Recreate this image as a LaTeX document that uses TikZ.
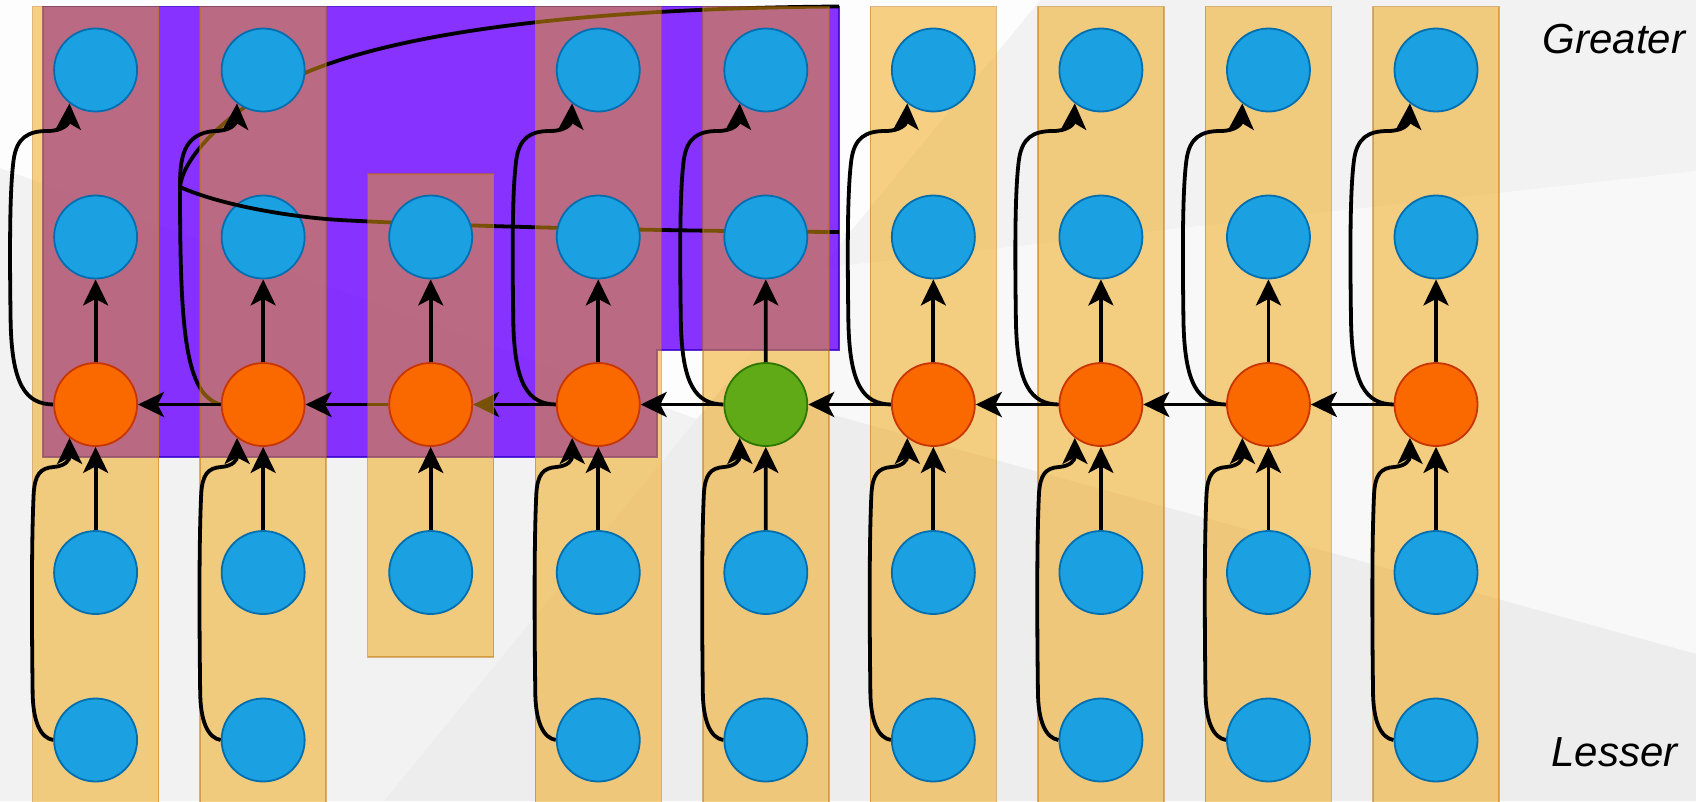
\documentclass[tikz,border=0pt]{standalone}
\usepackage{fontspec}
\setmainfont{Liberation Sans}
\usetikzlibrary{arrows.meta}
\definecolor{cblue}{HTML}{1BA1E2}
\definecolor{cbluedk}{HTML}{006EAF}
\definecolor{corange}{HTML}{FA6800}
\definecolor{corangedk}{HTML}{C73500}
\definecolor{cgreen}{HTML}{60A917}
\definecolor{cgreendk}{HTML}{2D7600}
\definecolor{cviolet}{HTML}{6A00FF}
\definecolor{cvioletdk}{HTML}{3700CC}
\definecolor{camber}{HTML}{F0A30A}
\definecolor{camberdk}{HTML}{BD7000}
\definecolor{bgbase}{HTML}{F2F2F2}
\definecolor{bgwhite}{HTML}{FDFDFD}
\definecolor{bglight}{HTML}{F8F8F8}
\definecolor{bgdark}{HTML}{EDEDED}
\pgfdeclarelayer{lbg}
\pgfdeclarelayer{lpurple}
\pgfdeclarelayer{lcurve}
\pgfdeclarelayer{lbox}
\pgfdeclarelayer{lharrow}
\pgfdeclarelayer{lboxtwo}
\pgfdeclarelayer{larrow}
\pgfdeclarelayer{ltop}
\pgfsetlayers{lbg,lpurple,lcurve,lbox,lharrow,lboxtwo,larrow,main,ltop}
\begin{document}
\begin{tikzpicture}[x=1pt,y=-1pt,
  cell/.style={circle, minimum size=83pt, inner sep=0pt, line width=1.8pt},
  bluec/.style={cell, fill=cblue, draw=cbluedk},
  orangec/.style={cell, fill=corange, draw=corangedk},
  greenc/.style={cell, fill=cgreen, draw=cgreendk},
  colbox/.style={fill=camber, draw=camberdk, opacity=0.5, line width=1.5pt},
  violetbox/.style={fill=cviolet, fill opacity=0.8, draw=cvioletdk, draw opacity=0.8, line width=1.5pt},
  link/.style={line width=3.8pt, -{Stealth[length=26pt,width=25pt,inset=6.5pt]}},
  plain/.style={line width=3.8pt},
  label/.style={anchor=base, inner sep=0pt, font=\fontsize{42}{50}\selectfont\itshape}]
\useasboundingbox (0,0) rectangle (1696,801);

% nodes
\foreach \i in {0,1,3,4,5,6,7,8} {
  \node[bluec] (t\i) at ({95.6+167.55*\i},70) {};
  \node[bluec] (l\i) at ({95.6+167.55*\i},740) {};
}
\foreach \i in {0,...,8} {
  \node[bluec] (m\i) at ({95.6+167.55*\i},237) {};
  \node[bluec] (b\i) at ({95.6+167.55*\i},572.5) {};
}
\foreach \i in {0,1,2,3,5,6,7,8} {
  \node[orangec] (o\i) at ({95.6+167.55*\i},404.5) {};
}
\node[greenc] (o4) at (765.8,404.5) {};
\node[label] (greater) at (1614,53.7) {Greater};
\node[label] (lesser) at (1614.5,766.5) {Lesser};

\coordinate (s1) at (839,6.5);
\coordinate (s2) at (839,232);
\coordinate (j) at (180,187);
\coordinate (k) at (340,220);

\begin{pgfonlayer}{lbg}
  \fill[bgbase] (0,0) rectangle (1696,801);
  \fill[bgwhite] (0,0) -- (1040,0) -- (697,419) -- (0,168) -- cycle;
  \fill[bglight] (820,268) -- (1696,171) -- (1696,654) -- (725,385) -- cycle;
  \fill[bgdark] (384,801) -- (725,385) -- (1696,654) -- (1696,801) -- cycle;
\end{pgfonlayer}

\begin{pgfonlayer}{lpurple}
  \filldraw[violetbox] (43,6.5) -- (839,6.5) -- (839,350) -- (657,350) -- (657,457) -- (43,457) -- cycle;
\end{pgfonlayer}

\begin{pgfonlayer}{lcurve}
  \draw[plain] (s1) .. controls (600,8) and (380,30) .. (280,85)
     .. controls (222,117) and (183,158) .. (j)
     .. controls (180,330) and (185,395) .. (o1.west);
  \draw[plain] (s2) .. controls (650,231) and (450,226) .. (k);
\end{pgfonlayer}

\begin{pgfonlayer}{lbox}
  \foreach \i in {0,1,3,4,5,6,7,8} {
    \filldraw[colbox] ({95.6+167.55*\i-63},6.5) rectangle ({95.6+167.55*\i+63},812);
  }
\end{pgfonlayer}

\begin{pgfonlayer}{lharrow}
  \foreach \i/\j in {0/1,1/2,2/3,3/4,4/5,5/6,6/7,7/8} {
    \draw[link] (o\j.west) -- (o\i.east);
  }
\end{pgfonlayer}

\begin{pgfonlayer}{lboxtwo}
  \filldraw[colbox] (367.7,174) rectangle (493.7,657);
\end{pgfonlayer}

\begin{pgfonlayer}{larrow}
  \foreach \i in {0,...,8} {
    \draw[link] (b\i.north) -- (o\i.south);
    \draw[link] (o\i.north) -- (m\i.south);
  }
  \foreach \i in {0,3,4,5,6,7,8} {
    \pgfmathsetmacro{\cx}{95.6+167.55*\i}
    \draw[link] (o\i.west) .. controls ({\cx-70},404) and ({\cx-84},385) .. ({\cx-85},320)
      .. controls ({\cx-86},250) and ({\cx-86},190) .. ({\cx-82},160)
      .. controls ({\cx-79},138) and ({\cx-68},131) .. ({\cx-48},131)
      .. controls ({\cx-33},131) and ({\cx-27},124) .. (t\i.232);
  }
  \draw[link] (j) .. controls (180,160) and (182,133) .. (215,131)
      .. controls (230,131) and (236,124) .. (t1.232);
  \foreach \i in {0,1,3,4,5,6,7,8} {
    \pgfmathsetmacro{\cx}{95.6+167.55*\i}
    \draw[link] (l\i.west) .. controls ({\cx-55},738) and ({\cx-63},722) .. ({\cx-63},690)
      .. controls ({\cx-64},610) and ({\cx-64},540) .. ({\cx-62},495)
      .. controls ({\cx-61},474) and ({\cx-55},468) .. ({\cx-42},467)
      .. controls ({\cx-30},466) and ({\cx-26},460) .. (o\i.232);
  }
\end{pgfonlayer}

\begin{pgfonlayer}{ltop}
  \draw[plain] (k) .. controls (290,217) and (220,205) .. (j);
\end{pgfonlayer}
\end{tikzpicture}
\end{document}
